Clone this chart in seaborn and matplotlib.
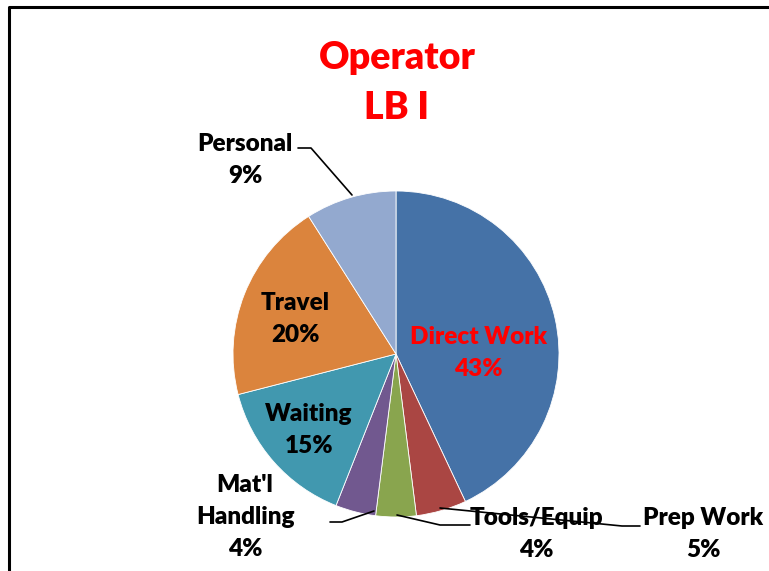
import numpy as np
import matplotlib
matplotlib.use("Agg")
import matplotlib.pyplot as plt
import seaborn as sns

# data
categories = ["Direct Work", "Prep Work", "Tools/Equip", "Mat'l\nHandling", "Waiting", "Travel", "Personal"]
shares = [43, 5, 4, 4, 15, 20, 9]
colors = ["#4572A7", "#AA4643", "#89A54E", "#71588F", "#4198AF", "#DB843D", "#93A9CF"]
title_lines = ["Operator", "LB I"]

sns.set_theme(style="white")
plt.rcParams['font.family'] = ['Lato', 'DejaVu Sans']

W, H = 769, 571
fig = plt.figure(figsize=(W / 100, H / 100), dpi=100)
ax = fig.add_axes([0, 0, 1, 1])

def py(y):
    # pixel row (from top) -> data y
    return H - y

cx, cy, r = 396, py(354), 163
wedges, _ = ax.pie(shares, colors=colors, startangle=90, counterclock=False,
                   center=(cx, cy), radius=r, frame=True,
                   wedgeprops=dict(edgecolor='white', linewidth=0.6))
ax.set_xlim(0, W)
ax.set_ylim(0, H)
ax.set_aspect('equal')
ax.axis('off')

# chart frame (only left/top visible in the crop)
ax.plot([9, 9, W + 5], [-5, py(7), py(7)], color='black', lw=2.2, clip_on=False)

# title
ax.text(397, py(58), title_lines[0], color='red', fontsize=27, fontweight='heavy', ha='center', va='center')
ax.text(397, py(108), title_lines[1], color='red', fontsize=27, fontweight='heavy', ha='center', va='center')

# label layout (pixel positions of label centres)
label_pos = {
    "Direct Work": (478, 353),
    "Prep Work": (703, 534),
    "Tools/Equip": (536, 534),
    "Mat'l\nHandling": (245, 517),
    "Waiting": (309, 430),
    "Travel": (295, 319),
    "Personal": (245, 160),
}
fs = 17.5
for cat, val in zip(categories, shares):
    x, y = label_pos[cat]
    col = 'red' if cat == "Direct Work" else 'black'
    ax.text(x, py(y), f"{cat}\n{val}%", color=col, fontsize=fs, fontweight='heavy',
            ha='center', va='center', linespacing=1.55)

# leader lines
leaders = [
    [(298, 148), (311, 148), (352, 195)],
    [(330, 522), (342, 522), (374, 511)],
    [(397, 515), (440, 525), (470, 525)],
    [(440, 508), (622, 526), (640, 526)],
]
for pts in leaders:
    xs = [p[0] for p in pts]
    ys = [py(p[1]) for p in pts]
    ax.plot(xs, ys, color='black', lw=1.2)

fig.savefig("out.png", dpi=100, facecolor='white')
